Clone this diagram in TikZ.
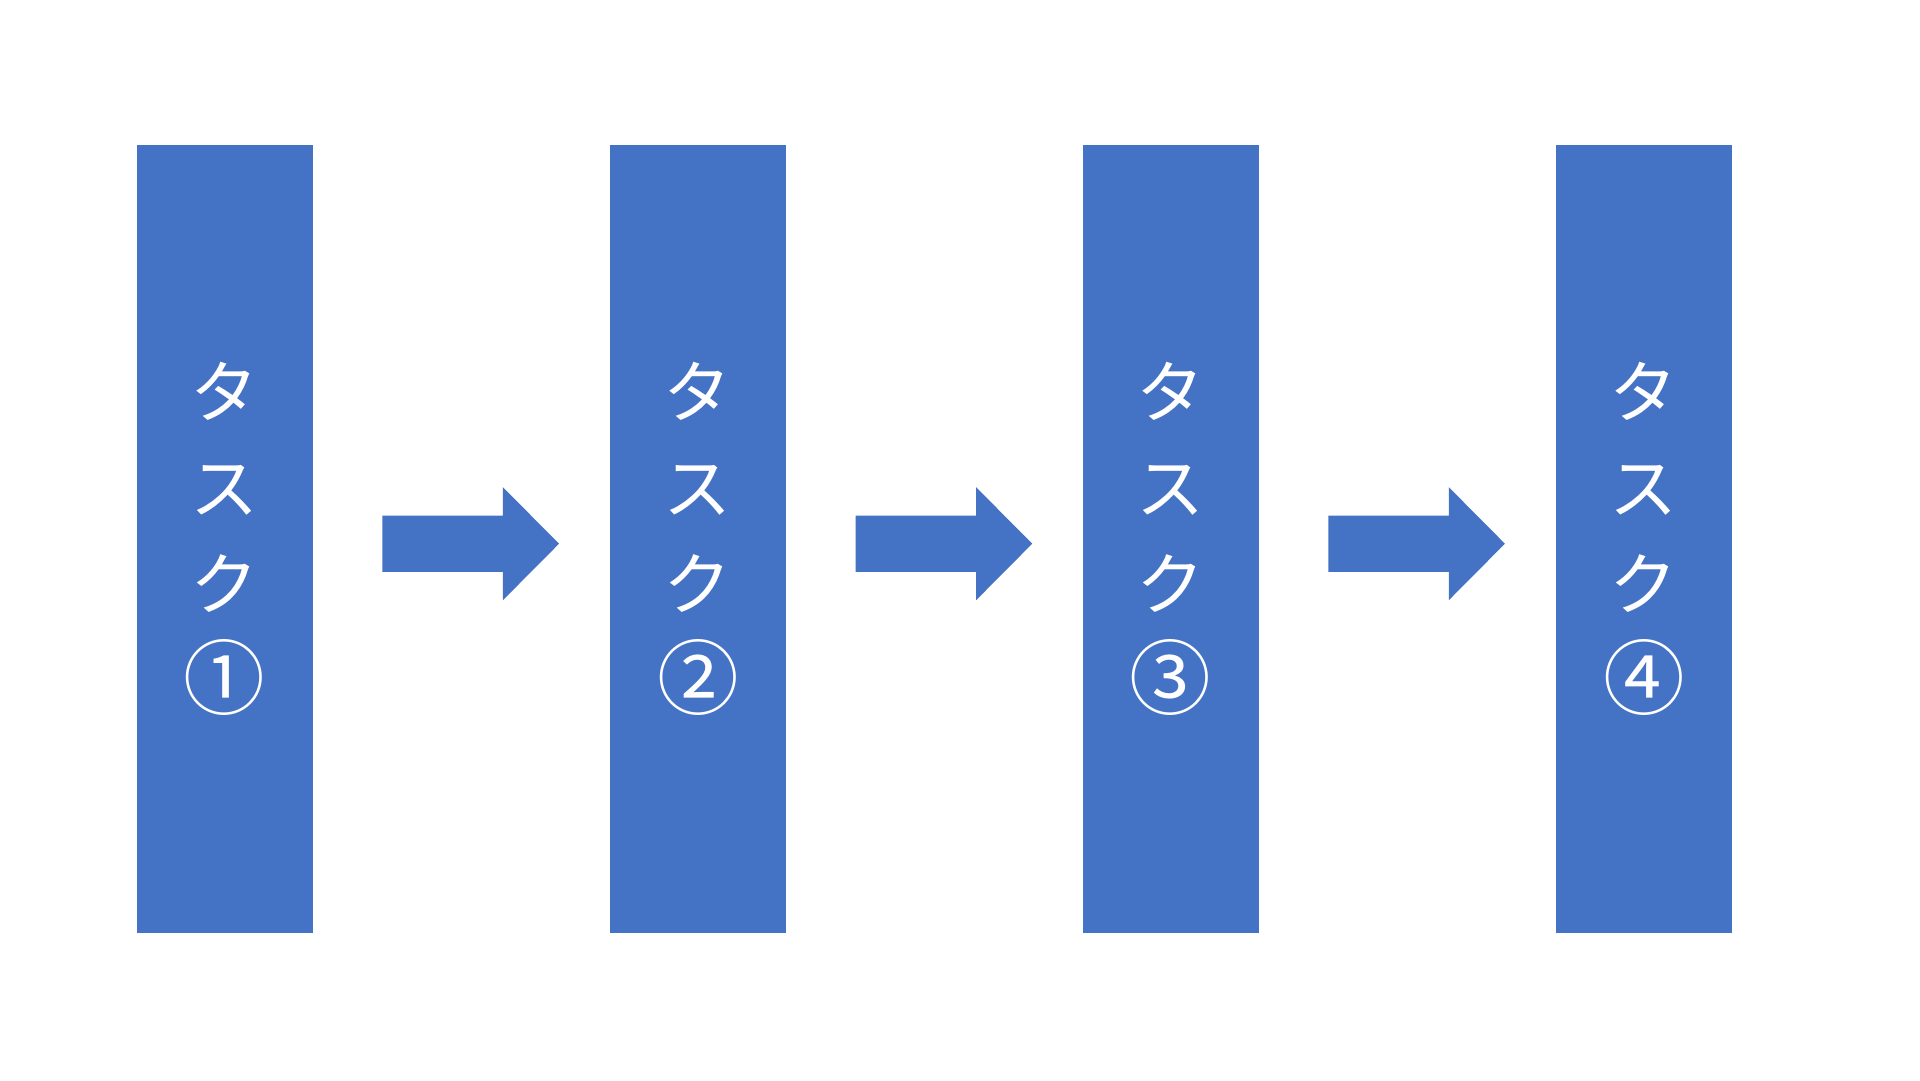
\documentclass[tikz,border=0pt]{standalone}
\usepackage{fontspec}
\usepackage{graphicx}
\newfontfamily\jpfont{Noto Sans CJK JP}
\definecolor{boxblue}{HTML}{4472C4}
\usetikzlibrary{calc}
\tikzset{
  taskbox/.style={fill=boxblue, draw=none, minimum width=176pt, minimum height=788.5pt,
    inner sep=0pt, text=white, align=center,
    font={\jpfont\fontsize{68}{96}\selectfont}},
  blockarrow/.style={fill=boxblue, draw=none}
}
\newcommand{\cnum}[1]{\raisebox{-3pt}{\scalebox{1.2}{#1}}}
\newcommand{\blockarrow}[1]{%
  \fill[blockarrow] ($(#1.east)+(69.5,4.9)$) coordinate (s)
    ($(s)+(0,-28.2)$) -- ($(s)+(120.5,-28.2)$) -- ($(s)+(120.5,-56.5)$)
    -- ($(s)+(176.6,0)$) -- ($(s)+(120.5,56.5)$) -- ($(s)+(120.5,28.2)$)
    -- ($(s)+(0,28.2)$) -- cycle;}
\begin{document}
\begin{tikzpicture}[x=1pt,y=-1pt]
\useasboundingbox (0,0) rectangle (1920,1080);
\node[taskbox] (b1) at (224.7,538.8) {タ\\ス\\ク\\\cnum{①}};
\node[taskbox] (b2) at (697.9,538.8) {タ\\ス\\ク\\\cnum{②}};
\node[taskbox] (b3) at (1170.6,538.8) {タ\\ス\\ク\\\cnum{③}};
\node[taskbox] (b4) at (1643.9,538.8) {タ\\ス\\ク\\\cnum{④}};
\blockarrow{b1}
\blockarrow{b2}
\blockarrow{b3}
\end{tikzpicture}
\end{document}
